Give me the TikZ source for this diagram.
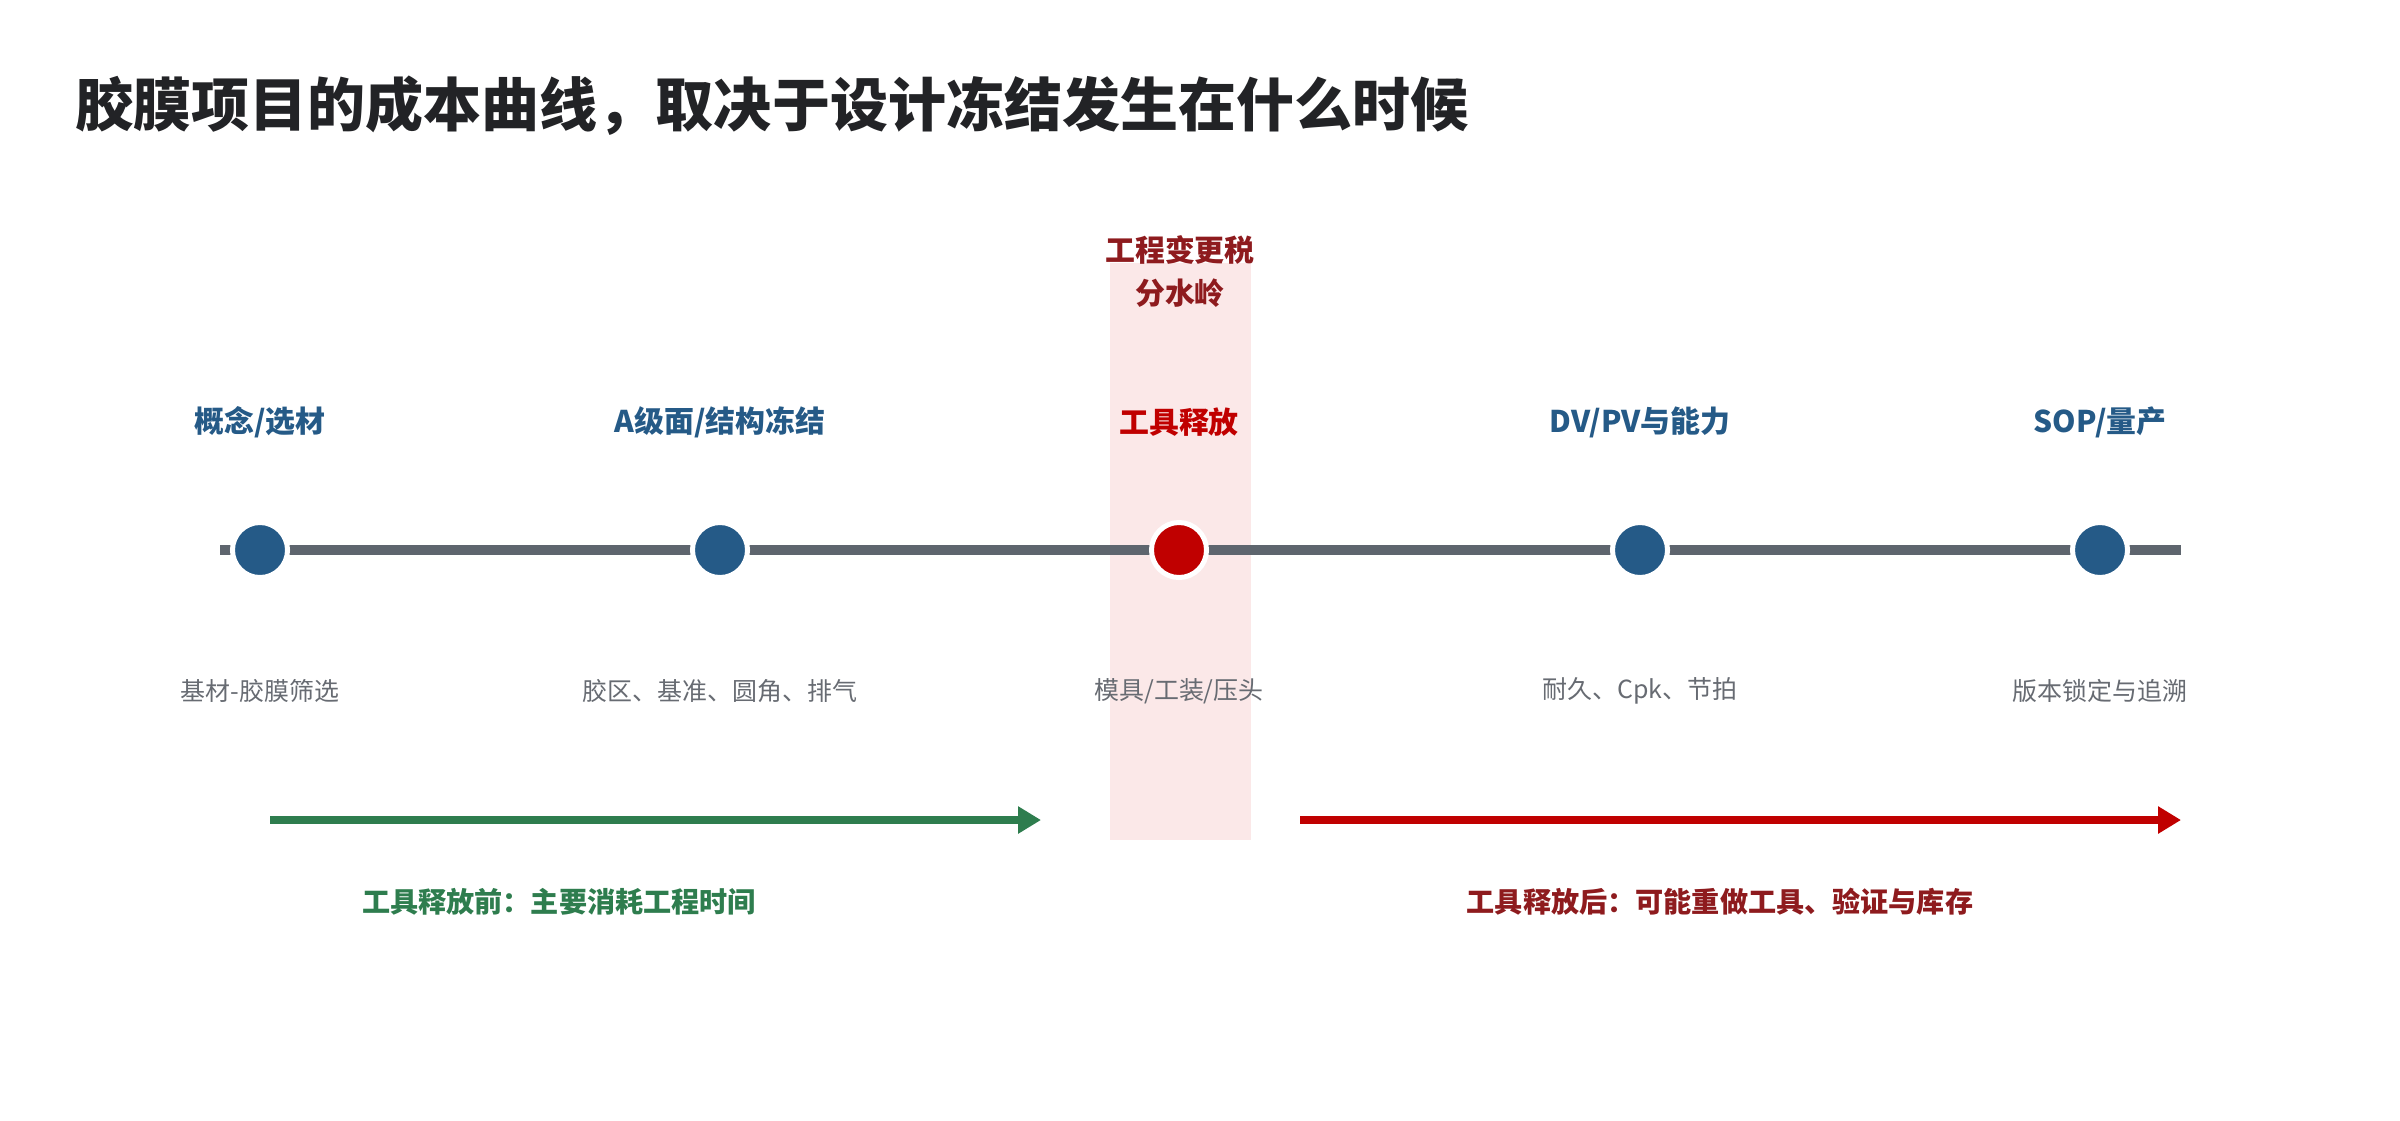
\documentclass[tikz,border=0pt]{standalone}
\usepackage{fontspec}
\setmainfont{Noto Sans CJK SC}
\usetikzlibrary{arrows.meta}

\definecolor{msblue}{HTML}{255A87}
\definecolor{msred}{HTML}{C00000}
\definecolor{darkred}{HTML}{8E1B1E}
\definecolor{msgreen}{HTML}{2E7D4E}
\definecolor{linegray}{HTML}{5E656E}
\definecolor{subgray}{HTML}{676B72}
\definecolor{bandpink}{HTML}{FBE8E8}
\definecolor{titleblack}{HTML}{222326}

\begin{document}
\begin{tikzpicture}[x=0.01cm,y=-0.01cm,
	dot/.style={circle,inner sep=0pt,minimum size=0.55cm,draw=white,line width=0.05cm,fill=msblue},
	toplabel/.style={inner sep=0pt,font=\bfseries\fontsize{8.5}{10}\selectfont,text=msblue},
	sublabel/.style={inner sep=0pt,font=\fontsize{7.1}{9}\selectfont,text=subgray},
	caption/.style={inner sep=0pt,font=\bfseries\fontsize{8}{10}\selectfont},
	phase/.style={line width=0.08cm,-{Triangle[length=0.23cm,width=0.26cm]}}]
\useasboundingbox (0,0) rectangle (2400,1120);

\node[anchor=west,inner sep=0pt,font=\bfseries\fontsize{16.5}{20}\selectfont,text=titleblack] (title) at (75,106) {胶膜项目的成本曲线，取决于设计冻结发生在什么时候};

% watershed band
\fill[bandpink] (1110,263) rectangle (1251,840);
\node[toplabel,text=darkred] (tax) at (1180,250) {工程变更税};
\node[toplabel,text=darkred] (ridge) at (1180,293) {分水岭};

% timeline
\coordinate (tl0) at (220,550);
\coordinate (tl1) at (2181,550);
\draw[linegray,line width=0.1cm] (tl0) -- (tl1);

\foreach \i/\x in {1/260,2/720,4/1640,5/2100}{
	\node[dot] (m\i) at (\x,550) {};
}
\node[dot,fill=msred] (m3) at (1179,550) {};

\node[toplabel] (t1) at (260,422) {概念/选材};
\node[toplabel] (t2) at (720,422) {A级面/结构冻结};
\node[toplabel,text=msred] (t3) at (1179,422) {工具释放};
\node[toplabel] (t4) at (1640,422) {DV/PV与能力};
\node[toplabel] (t5) at (2100,422) {SOP/量产};

\node[sublabel] (s1) at (260,691) {基材-胶膜筛选};
\node[sublabel] (s2) at (720,691) {胶区、基准、圆角、排气};
\node[sublabel] (s3) at (1179,691) {模具/工装/压头};
\node[sublabel] (s4) at (1640,691) {耐久、Cpk、节拍};
\node[sublabel] (s5) at (2100,691) {版本锁定与追溯};

% before / after tool release
\coordinate (g0) at (270,820);
\coordinate (g1) at (1041,820);
\coordinate (r0) at (1300,820);
\coordinate (r1) at (2181,820);
\draw[phase,msgreen] (g0) -- (g1);
\draw[phase,msred] (r0) -- (r1);

\node[caption,text=msgreen] (before) at (559,902) {工具释放前：主要消耗工程时间};
\node[caption,text=darkred] (after) at (1720,902) {工具释放后：可能重做工具、验证与库存};

\end{tikzpicture}
\end{document}
